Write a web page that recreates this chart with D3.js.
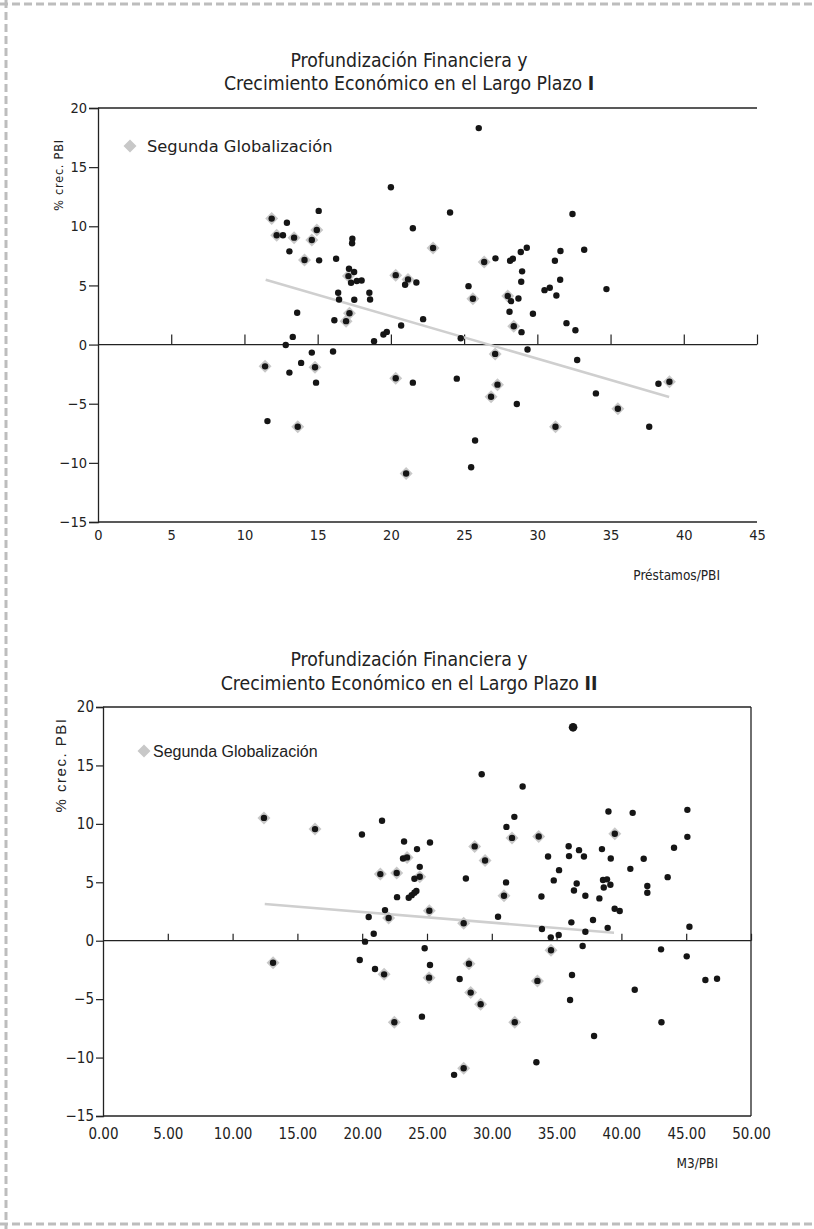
<!DOCTYPE html>
<html><head><meta charset="utf-8">
<script src="https://cdn.jsdelivr.net/npm/d3@7"></script>
<style>body{margin:0;background:#fff}svg{display:block}</style>
</head><body><svg id="c" width="814" height="1229"></svg>
<script>
// ---------- Chart I: Préstamos/PBI vs % crec. PBI ----------
const loansX = [26.0,20.0,15.07,24.04,32.4,12.9,11.86,14.94,21.5,12.2,12.63,13.39,14.6,17.37,17.35,13.07,22.88,14.1,15.1,16.26,17.14,17.49,17.1,17.28,17.67,18.0,20.33,21.17,20.97,21.74,25.3,25.6,16.4,18.53,16.46,17.5,18.58,13.6,17.17,22.2,29.28,28.87,33.2,31.58,26.37,27.14,28.14,28.33,31.2,28.96,28.9,31.56,30.49,30.85,34.72,27.98,28.2,28.71,31.3,28.1,29.7,16.14,16.94,13.3,12.82,18.85,19.49,19.72,14.6,16.05,13.87,11.41,14.82,13.07,14.89,11.57,13.64,20.7,24.77,28.39,28.92,31.99,32.6,29.33,27.12,32.72,20.33,21.5,24.5,27.28,26.84,28.6,34.0,38.27,39.02,35.5,31.24,37.64,25.75,25.48,21.04];
const loansY = [18.3,13.3,11.3,11.16,11.04,10.3,10.65,9.69,9.83,9.24,9.24,9.04,8.84,8.95,8.56,7.88,8.16,7.15,7.12,7.26,6.41,6.13,5.79,5.23,5.37,5.42,5.87,5.51,5.06,5.25,4.94,3.87,4.38,4.38,3.81,3.79,3.81,2.69,2.65,2.15,8.19,7.82,8.02,7.91,6.98,7.29,7.09,7.26,7.09,6.19,5.31,5.48,4.6,4.8,4.69,4.1,3.67,3.9,4.15,2.77,2.6,2.06,1.98,0.65,-0.03,0.28,0.85,1.07,-0.68,-0.59,-1.55,-1.84,-1.92,-2.37,-3.22,-6.47,-6.95,1.61,0.54,1.55,1.05,1.81,1.21,-0.42,-0.79,-1.3,-2.85,-3.22,-2.88,-3.39,-4.41,-5.03,-4.13,-3.31,-3.14,-5.42,-6.95,-6.95,-8.11,-10.37,-10.9];
// 1 = Segunda Globalización
const loansSG = [0,0,0,0,0,0,1,1,0,1,0,1,1,0,0,0,1,1,0,0,0,0,1,0,0,0,1,1,0,0,0,1,0,0,0,0,0,0,1,0,0,0,0,0,1,0,0,0,0,0,0,0,0,0,0,1,0,0,0,0,0,0,1,0,0,0,0,0,0,0,0,1,1,0,0,0,1,0,0,1,0,0,0,0,1,0,1,0,0,1,1,0,0,0,1,1,1,0,0,0,1];
const loansTrendX = [11.45, 39.0];
const loansTrendY = [5.48, -4.43];

// ---------- Chart II: M3/PBI vs % crec. PBI ----------
const m3X = [36.27,29.22,32.38,12.42,16.36,21.53,19.98,31.74,31.13,31.56,23.23,24.23,25.23,28.68,23.15,23.46,29.48,24.44,21.4,22.66,24.03,24.44,28.0,31.1,30.94,22.69,23.59,23.82,24.03,24.18,21.76,25.18,20.5,22.04,27.83,30.48,39.0,40.87,45.09,45.09,44.06,33.62,39.49,35.93,35.96,36.73,37.11,38.5,39.18,34.34,35.19,34.78,36.55,36.34,38.58,38.89,38.64,39.15,40.69,41.72,43.57,42.0,42.0,33.83,37.22,38.3,39.48,39.87,36.14,37.81,38.94,45.25,33.87,34.55,35.16,37.22,24.82,25.23,25.16,27.52,28.24,28.37,29.14,31.77,24.61,34.57,33.52,36.19,36.04,37.01,41.03,37.89,43.06,45.04,46.48,47.38,43.09,33.44,27.83,27.09,13.12,20.89,20.22,19.81,20.99,21.69,22.48];
const m3Y = [18.26,14.25,13.2,10.51,9.55,10.26,9.09,10.6,9.74,8.8,8.49,7.84,8.41,8.07,7.04,7.13,6.87,6.32,5.7,5.79,5.3,5.47,5.33,4.99,3.85,3.73,3.68,3.9,4.1,4.25,2.62,2.56,2.03,1.94,1.49,2.05,11.06,10.94,11.2,8.89,7.95,8.92,9.15,8.09,7.24,7.75,7.21,7.84,7.04,7.21,6.04,5.16,4.9,4.3,5.19,5.25,4.56,4.79,6.15,7.01,5.44,4.68,4.1,3.79,3.85,3.62,2.74,2.54,1.57,1.77,1.1,1.2,1.0,0.29,0.49,0.77,-0.65,-2.08,-3.16,-3.27,-1.97,-4.44,-5.44,-6.98,-6.5,-0.82,-3.44,-2.93,-5.07,-0.45,-4.19,-8.15,-0.74,-1.34,-3.36,-3.25,-6.98,-10.4,-10.91,-11.48,-1.88,0.6,-0.08,-1.65,-2.42,-2.88,-6.98];
const m3SG = [0,0,0,1,1,0,0,0,0,1,0,0,0,1,0,1,1,0,1,1,0,1,0,0,1,0,0,0,0,0,0,1,0,1,1,0,0,0,0,0,0,1,1,0,0,0,0,0,0,0,0,0,0,0,0,0,0,0,0,0,0,0,0,0,0,0,0,0,0,0,0,0,0,0,0,0,0,0,1,0,1,1,1,1,0,1,1,0,0,0,0,0,0,0,0,0,0,0,1,0,1,0,0,0,0,1,1];
const m3TrendX = [12.48, 39.43];
const m3TrendY = [3.14, 0.69];

const yTicks = [-15,-10,-5,0,5,10,15,20];
const loansXTicks = [0,5,10,15,20,25,30,35,40,45];
const m3XTicks = [0,5,10,15,20,25,30,35,40,45,50];
const seriesName = "Segunda Globalización";
const yLabel = "% crec. PBI";

const svg = d3.select("#c");
const COND = "'DejaVu Sans Condensed','DejaVu Sans',sans-serif";

// page dashed border
svg.append("line").attr("x1",0).attr("x2",814).attr("y1",4).attr("y2",4)
  .attr("stroke","#bdbdbd").attr("stroke-width",3).attr("stroke-dasharray","8,4");
svg.append("line").attr("x1",6).attr("x2",6).attr("y1",0).attr("y2",1229)
  .attr("stroke","#bdbdbd").attr("stroke-width",3).attr("stroke-dasharray","8,4");
svg.append("line").attr("x1",0).attr("x2",814).attr("y1",1224).attr("y2",1224)
  .attr("stroke","#bdbdbd").attr("stroke-width",3).attr("stroke-dasharray","8,4");

function drawChart(o){
  const g = svg.append("g");
  const x = d3.scaleLinear().domain(o.xDomain).range(o.xRange);
  const y = d3.scaleLinear().domain([-15,20]).range(o.yRange);
  const [x0,x1] = o.xRange, [yb,yt] = o.yRange;

  // title
  const t = g.append("text").attr("text-anchor","middle").attr("font-family",COND)
    .attr("font-size",o.titleSize).attr("fill","#222");
  t.append("tspan").attr("x",o.titleX).attr("y",o.titleY).text("Profundización Financiera y");
  t.append("tspan").attr("x",o.titleX).attr("y",o.titleY+o.titleGap).text("Crecimiento Económico en el Largo Plazo ");
  t.append("tspan").attr("font-weight","bold").text(o.roman);

  // frame
  g.append("line").attr("x1",x0).attr("x2",o.frameRight).attr("y1",yt).attr("y2",yt).attr("stroke","#222").attr("stroke-width",1.3);
  g.append("line").attr("x1",x0).attr("x2",o.frameRight).attr("y1",yb).attr("y2",yb).attr("stroke","#222").attr("stroke-width",1.3);
  if(o.rightBorder) g.append("line").attr("x1",o.frameRight).attr("x2",o.frameRight).attr("y1",yt).attr("y2",yb).attr("stroke","#222").attr("stroke-width",1.3);

  // y axis
  const ya = g.append("g").attr("transform",`translate(${x0},0)`)
    .call(d3.axisLeft(y).tickValues(yTicks).tickSize(o.yTickLen).tickPadding(2).tickFormat(d3.format("d")));
  ya.select(".domain").attr("stroke","#222").attr("stroke-width",1.3);
  ya.selectAll(".tick line").attr("stroke","#222").attr("stroke-width",1.2);
  ya.selectAll("text").attr("font-family",o.tickFont).attr("font-size",o.tickSize).attr("fill","#222");

  // zero line with upward ticks
  const xa = g.append("g").attr("transform",`translate(0,${y(0)})`)
    .call(d3.axisTop(x).tickValues(o.xTicks.filter(d=>d>0)).tickSize(o.xTickLen).tickFormat(""));
  xa.select(".domain").remove();
  xa.selectAll(".tick line").attr("stroke","#222").attr("stroke-width",1.2);
  g.append("line").attr("x1",x0).attr("x2",o.zeroRight).attr("y1",y(0)).attr("y2",y(0)).attr("stroke","#222").attr("stroke-width",1.3);

  // x tick labels at bottom
  const xb = g.append("g").attr("transform",`translate(0,${yb})`)
    .call(d3.axisBottom(x).tickValues(o.xTicks).tickSize(0).tickPadding(o.xLabelPad).tickFormat(o.xFormat));
  xb.select(".domain").remove();
  xb.selectAll("text").attr("font-family",o.tickFont).attr("font-size",o.tickSize).attr("fill","#222");

  // axis titles
  g.append("text").attr("x",o.xTitleX).attr("y",o.xTitleY).attr("text-anchor","end")
    .attr("font-family",COND).attr("font-size",o.xTitleSize).attr("fill","#222").text(o.xTitle);
  g.append("text").attr("transform",`translate(${o.yTitleX},${o.yTitleY}) rotate(-90)`).attr("text-anchor","middle")
    .attr("font-family",o.yTitleFont).attr("font-size",o.yTitleSize).attr("letter-spacing",o.yTitleLS).attr("fill","#222").text(yLabel);

  // legend
  const dsz = o.legendDiamond;
  g.append("path").attr("d",`M${o.legX},${o.legY-dsz}L${o.legX+dsz},${o.legY}L${o.legX},${o.legY+dsz}L${o.legX-dsz},${o.legY}Z`).attr("fill","#c8c8c8");
  g.append("text").attr("x",o.legTextX).attr("y",o.legY+o.legSize*0.36).attr("font-family",o.legFont)
    .attr("font-size",o.legSize).attr("fill","#222").text(seriesName);

  // trend line
  g.append("line").attr("x1",x(o.trendX[0])).attr("y1",y(o.trendY[0])).attr("x2",x(o.trendX[1])).attr("y2",y(o.trendY[1]))
    .attr("stroke","#cfcfcf").attr("stroke-width",2.5);

  const pts = o.xs.map((v,i)=>({x:v,y:o.ys[i],sg:o.sg[i],i:i}));
  // diamonds
  const ds = 6.5;
  g.selectAll("path.sg").data(pts.filter(d=>d.sg)).join("path").attr("class","sg")
    .attr("d",d=>{const cx=x(d.x), cy=y(d.y);return `M${cx},${cy-ds}L${cx+ds},${cy}L${cx},${cy+ds}L${cx-ds},${cy}Z`;})
    .attr("fill","#c8c8c8");
  // dots
  g.selectAll("circle.pt").data(pts).join("circle").attr("class","pt")
    .attr("cx",d=>x(d.x)).attr("cy",d=>y(d.y)).attr("r",d=> (o.bigIndex===d.i?4.3:3.2)).attr("fill","#151515");
}

drawChart({
  xs:loansX, ys:loansY, sg:loansSG, trendX:loansTrendX, trendY:loansTrendY,
  xDomain:[0,45], xRange:[98,757], yRange:[522,108], xTicks:loansXTicks, xFormat:d3.format("d"),
  frameRight:757, zeroRight:757, rightBorder:false,
  yTickLen:9, xTickLen:10, xLabelPad:8,
  tickFont:COND, tickSize:14.5,
  titleX:409, titleY:67, titleGap:23, titleSize:19.3, roman:"I",
  xTitle:"Préstamos/PBI", xTitleX:720, xTitleY:580, xTitleSize:13.5,
  yTitleX:63, yTitleY:175, yTitleFont:COND, yTitleSize:12.5, yTitleLS:0.8,
  legX:130, legY:146, legTextX:147, legSize:16.3, legFont:"'DejaVu Sans',sans-serif", legendDiamond:6.5,
  bigIndex:-1
});
drawChart({
  xs:m3X, ys:m3Y, sg:m3SG, trendX:m3TrendX, trendY:m3TrendY,
  xDomain:[0,50], xRange:[103,751], yRange:[1116,707], xTicks:m3XTicks, xFormat:d3.format(".2f"),
  frameRight:751, zeroRight:751, rightBorder:true,
  yTickLen:7, xTickLen:7, xLabelPad:12,
  tickFont:COND, tickSize:15,
  titleX:409, titleY:666, titleGap:24, titleSize:19.3, roman:"II",
  xTitle:"M3/PBI", xTitleX:718, xTitleY:1168, xTitleSize:13.5,
  yTitleX:66, yTitleY:765, yTitleFont:"'Liberation Sans',Arial,sans-serif", yTitleSize:15, yTitleLS:1.5,
  legX:144, legY:751, legTextX:153, legSize:16, legFont:"'Liberation Sans',Arial,sans-serif", legendDiamond:6.5,
  bigIndex:0
});
</script>
</body></html>
